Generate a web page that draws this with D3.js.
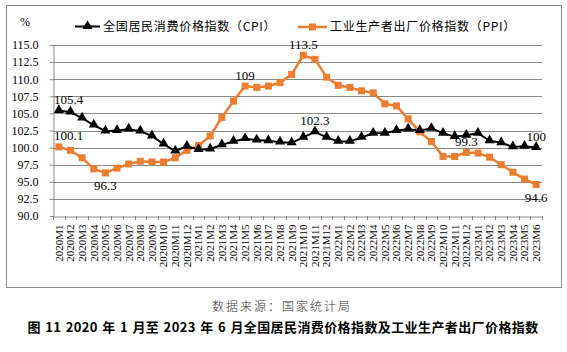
<!DOCTYPE html>
<html>
<head>
<meta charset="utf-8">
<script src="https://cdn.jsdelivr.net/npm/d3@7"></script>
<style>
    body { margin: 0; background: #ffffff; }
    svg text { font-family: "Liberation Serif", "Noto Sans CJK SC", serif; }
</style>
</head>
<body>
<div id="chart"></div>
<script>
//
// CPI / PPI line chart
//

var months = [
    "2020M1", "2020M2", "2020M3", "2020M4", "2020M5", "2020M6", "2020M7", "2020M8", "2020M9", "2020M10", "2020M11", "2020M12",
    "2021M1", "2021M2", "2021M3", "2021M4", "2021M5", "2021M6", "2021M7", "2021M8", "2021M9", "2021M10", "2021M11", "2021M12",
    "2022M1", "2022M2", "2022M3", "2022M4", "2022M5", "2022M6", "2022M7", "2022M8", "2022M9", "2022M10", "2022M11", "2022M12",
    "2023M1", "2023M2", "2023M3", "2023M4", "2023M5", "2023M6"
];

var cpiValues = [
    105.4, 105.2, 104.3, 103.3, 102.4, 102.5, 102.7, 102.4, 101.7, 100.5, 99.5, 100.2,
    99.7, 99.8, 100.4, 100.9, 101.3, 101.1, 101.0, 100.8, 100.7, 101.5, 102.3, 101.5,
    100.9, 100.9, 101.5, 102.1, 102.1, 102.5, 102.7, 102.5, 102.8, 102.1, 101.6, 101.8,
    102.1, 101.0, 100.7, 100.1, 100.2, 100.0
];

var ppiValues = [
    100.1, 99.6, 98.5, 96.9, 96.3, 97.0, 97.6, 98.0, 97.9, 97.9, 98.5, 99.6,
    100.3, 101.7, 104.4, 106.8, 109.0, 108.8, 109.0, 109.5, 110.7, 113.5, 112.9, 110.3,
    109.1, 108.8, 108.3, 108.0, 106.4, 106.1, 104.2, 102.3, 100.9, 98.7, 98.7, 99.3,
    99.2, 98.6, 97.5, 96.4, 95.4, 94.6
];

var yTicks = [90.0, 92.5, 95.0, 97.5, 100.0, 102.5, 105.0, 107.5, 110.0, 112.5, 115.0];

var seriesNames = ["全国居民消费价格指数（CPI）", "工业生产者出厂价格指数（PPI）"];

// which points carry a value label
var cpiLabels = [{ i: 0, text: "105.4" }, { i: 22, text: "102.3" }, { i: 41, text: "100" }];
var ppiLabels = [{ i: 0, text: "100.1" }, { i: 4, text: "96.3", below: true }, { i: 16, text: "109" },
    { i: 21, text: "113.5" }, { i: 35, text: "99.3" }, { i: 41, text: "94.6", below: true }];

var sourceText = "数据来源：国家统计局";
var titleText = "图 11 2020 年 1 月至 2023 年 6 月全国居民消费价格指数及工业生产者出厂价格指数";

function drawChart(divName, width, height) {

    var marginLeft = 53;
    var marginRight = 25;
    var marginTop = 45;
    var plotBottom = 216;
    var gridColor = "#8a8a8a";
    var orange = "#ED7D31";

    var svg = d3.select("#" + divName)
        .append("svg")
        .attr("width", width)
        .attr("height", height);

    svg.append("rect")
        .attr("width", width)
        .attr("height", height)
        .attr("fill", "#ffffff");

    // chart border
    svg.append("rect")
        .attr("x", 6.5)
        .attr("y", 5.5)
        .attr("width", 555)
        .attr("height", 282)
        .attr("fill", "none")
        .attr("stroke", "#8c8c8c")
        .attr("stroke-width", 1);

    var x = d3.scaleBand().domain(months).range([marginLeft, width - marginRight]);
    var y = d3.scaleLinear().domain([90, 115]).range([plotBottom, marginTop]);
    var cx = function (i) { return x(months[i]) + x.bandwidth() / 2; };

    // gridlines
    svg.append("g")
        .selectAll("line")
        .data(yTicks.slice(1))
        .enter()
        .append("line")
        .attr("x1", marginLeft)
        .attr("x2", width - marginRight)
        .attr("y1", function (d) { return Math.round(y(d)) + 0.5; })
        .attr("y2", function (d) { return Math.round(y(d)) + 0.5; })
        .attr("stroke", gridColor)
        .attr("stroke-width", 1);

    // y-axis
    var yAxis = d3.axisLeft(y).tickValues(yTicks).tickSize(4).tickSizeOuter(0)
        .tickFormat(d3.format(".1f")).tickPadding(11);
    var gy = svg.append("g")
        .attr("transform", "translate(" + (marginLeft + 0.5) + ",0)")
        .call(yAxis);
    gy.select(".domain").attr("stroke", gridColor);
    gy.selectAll(".tick line").attr("stroke", gridColor);
    gy.selectAll("text")
        .style("font-size", "12px")
        .attr("fill", "#000");

    // x-axis
    var xAxis = d3.axisBottom(x).tickSize(0).tickSizeOuter(0);
    var gx = svg.append("g")
        .attr("transform", "translate(0," + (Math.round(plotBottom) + 0.5) + ")")
        .call(xAxis);
    gx.select(".domain").attr("stroke", gridColor);
    gx.selectAll("text")
        .style("font-size", "11px")
        .attr("fill", "#000")
        .attr("transform", "rotate(-90)")
        .attr("x", -8)
        .attr("y", 0)
        .attr("dy", "0.35em")
        .style("text-anchor", "end");

    // tick marks between categories
    svg.append("g")
        .selectAll("line")
        .data(months.concat(["end"]))
        .enter()
        .append("line")
        .attr("x1", function (d, idx) { return Math.round(marginLeft + idx * x.step()) + 0.5; })
        .attr("x2", function (d, idx) { return Math.round(marginLeft + idx * x.step()) + 0.5; })
        .attr("y1", plotBottom)
        .attr("y2", plotBottom + 4)
        .attr("stroke", gridColor);

    // lines
    var line = d3.line()
        .x(function (d, idx) { return cx(idx); })
        .y(function (d) { return y(d); });

    svg.append("path")
        .datum(ppiValues)
        .attr("fill", "none")
        .attr("stroke", orange)
        .attr("stroke-width", 2.5)
        .attr("stroke-linejoin", "round")
        .attr("d", line);

    svg.append("path")
        .datum(cpiValues)
        .attr("fill", "none")
        .attr("stroke", "#000")
        .attr("stroke-width", 2)
        .attr("stroke-linejoin", "round")
        .attr("d", line);

    // markers
    var triangle = d3.symbol().type(d3.symbolTriangle).size(44);

    svg.append("g")
        .selectAll("rect")
        .data(ppiValues)
        .enter()
        .append("rect")
        .attr("x", function (d, idx) { return cx(idx) - 3.5; })
        .attr("y", function (d) { return y(d) - 3.5; })
        .attr("width", 7)
        .attr("height", 7)
        .attr("fill", orange);

    svg.append("g")
        .selectAll("path")
        .data(cpiValues)
        .enter()
        .append("path")
        .attr("d", triangle)
        .attr("transform", function (d, idx) { return "translate(" + cx(idx) + "," + (y(d) - 0.5) + ")"; })
        .attr("fill", "#000");

    // value labels
    function addLabels(labels, values) {
        labels.forEach(function (l) {
            var px = cx(l.i);
            var py = y(values[l.i]) + (l.below ? 13 : -11);
            var t = svg.append("text")
                .attr("y", py)
                .attr("dy", "0.35em")
                .style("font-size", "13px")
                .style("text-anchor", "middle")
                .attr("fill", "#000")
                .text(l.text);
            var w = t.node().getComputedTextLength();
            if (px - w / 2 < marginLeft + 1)
                px = marginLeft + 1 + w / 2;
            t.attr("x", px);
        });
    }
    addLabels(cpiLabels, cpiValues);
    addLabels(ppiLabels, ppiValues);

    // percent unit
    svg.append("text")
        .attr("x", 25)
        .attr("y", 22)
        .attr("dy", "0.35em")
        .style("font-size", "12px")
        .style("text-anchor", "middle")
        .text("%");

    // legend
    var legend = svg.append("g").attr("class", "legend");
    legend.append("line")
        .attr("x1", 75).attr("x2", 100).attr("y1", 26.5).attr("y2", 26.5)
        .attr("stroke", "#000").attr("stroke-width", 2);
    legend.append("path")
        .attr("d", triangle)
        .attr("transform", "translate(87.5,26)")
        .attr("fill", "#000");
    legend.append("text")
        .attr("x", 103)
        .attr("y", 27)
        .attr("dy", "0.35em")
        .style("font-family", "'Noto Sans CJK SC', sans-serif")
        .style("font-size", "12px")
        .style("letter-spacing", "0.7px")
        .text(seriesNames[0]);

    legend.append("line")
        .attr("x1", 298).attr("x2", 327).attr("y1", 27).attr("y2", 27)
        .attr("stroke", orange).attr("stroke-width", 2.5);
    legend.append("rect")
        .attr("x", 309).attr("y", 23.5).attr("width", 7).attr("height", 7)
        .attr("fill", orange);
    legend.append("text")
        .attr("x", 330)
        .attr("y", 27)
        .attr("dy", "0.35em")
        .style("font-family", "'Noto Sans CJK SC', sans-serif")
        .style("font-size", "12px")
        .style("letter-spacing", "0.7px")
        .text(seriesNames[1]);

    // source and caption
    svg.append("text")
        .attr("x", 282)
        .attr("y", 307)
        .attr("dy", "0.35em")
        .style("font-family", "'Noto Sans CJK SC', sans-serif")
        .style("font-size", "12px")
        .style("font-weight", 300)
        .style("letter-spacing", "2px")
        .style("text-anchor", "middle")
        .attr("fill", "#333")
        .text(sourceText);

    svg.append("text")
        .attr("x", 283)
        .attr("y", 327)
        .attr("dy", "0.35em")
        .style("font-family", "'Noto Sans CJK SC', sans-serif")
        .style("font-size", "13px")
        .style("font-weight", "bold")
        .style("letter-spacing", "0.4px")
        .style("word-spacing", "1px")
        .style("text-anchor", "middle")
        .attr("fill", "#000")
        .text(titleText);

    return svg;
}

drawChart("chart", 567, 352);
</script>
</body>
</html>
